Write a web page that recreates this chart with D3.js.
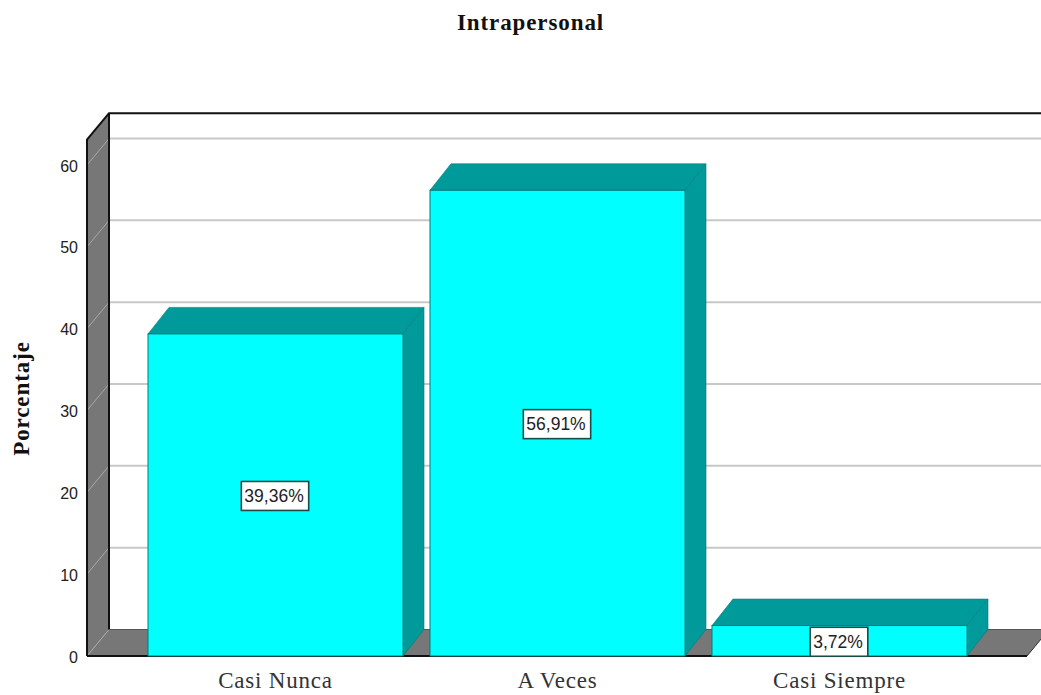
<!DOCTYPE html>
<html><head><meta charset="utf-8">
<script src="https://cdn.jsdelivr.net/npm/d3@7/dist/d3.min.js"></script>
<style>html,body{margin:0;padding:0;background:#fff;overflow:hidden}svg{display:block}</style>
</head><body><svg id="c" width="1041" height="695"></svg>
<script>
const categories = ["Casi Nunca", "A Veces", "Casi Siempre"];
const percentages = [39.36, 56.91, 3.72];
const percentLabels = ["39,36%", "56,91%", "3,72%"];
const tickValues = [0, 10, 20, 30, 40, 50, 60];
const chartTitle = "Intrapersonal";
const yTitle = "Porcentaje";

const svg = d3.select("#c");
const dx = 22, dy = -26.5, barDx = 21;
const y = d3.scaleLinear().domain([0, 60]).range([656, 165]);
const x = d3.scaleBand().domain(categories).range([134.5, 980.5]).paddingInner(0.0957).paddingOuter(0.0479);
const xFrontL = 87, xFrontR = 1027, yTopFront = y(63.1);
const line = d3.line();

// walls and floor
svg.append("path").attr("fill", "#fff")
  .attr("d", line([[xFrontL+dx, yTopFront+dy],[1041, yTopFront+dy],[1041, y(0)+dy],[xFrontL+dx, y(0)+dy]]));
svg.append("path").attr("fill", "#777").attr("d", line([[xFrontL, yTopFront],[xFrontL+dx, yTopFront+dy],[xFrontL+dx, y(0)+dy],[xFrontL, y(0)]])+"Z");
svg.append("path").attr("fill", "#777").attr("d", line([[xFrontL, y(0)],[xFrontL+dx, y(0)+dy],[xFrontR+dx, y(0)+dy],[xFrontR, y(0)]])+"Z");

// gridlines: bright on the back wall, muted on the side wall
tickValues.forEach(t => {
  svg.append("path").attr("fill", "none").attr("stroke", "#a8a8a8").attr("stroke-width", 1)
    .attr("d", line([[xFrontL, y(t)],[xFrontL+dx, y(t)+dy]]));
  if (t > 0) svg.append("path").attr("fill", "none").attr("stroke", "#c8c8c8").attr("stroke-width", 2)
    .attr("d", line([[xFrontL+dx, y(t)+dy],[1041, y(t)+dy]]));
});

// frame
svg.append("path").attr("fill", "none").attr("stroke", "#111").attr("stroke-width", 2)
  .attr("d", line([[xFrontL, y(0)],[xFrontL, yTopFront],[xFrontL+dx, yTopFront+dy],[1041, yTopFront+dy]]));
svg.append("path").attr("fill", "none").attr("stroke", "#111").attr("stroke-width", 2)
  .attr("d", line([[xFrontL+dx, yTopFront+dy],[xFrontL+dx, y(0)+dy]]));
svg.append("path").attr("fill", "none").attr("stroke", "#555").attr("stroke-width", 1)
  .attr("d", line([[xFrontL+dx, y(0)+dy],[xFrontR+dx, y(0)+dy]]));
svg.append("path").attr("fill", "none").attr("stroke", "#111").attr("stroke-width", 2)
  .attr("d", line([[xFrontL, y(0)],[xFrontR, y(0)]]));
svg.append("path").attr("fill", "none").attr("stroke", "#333").attr("stroke-width", 1)
  .attr("d", line([[xFrontR, y(0)],[xFrontR+dx, y(0)+dy]]));

// bars
const rows = categories.map((c, i) => ({c, v: percentages[i], l: percentLabels[i]}));
const g = svg.selectAll("g.bar").data(rows).join("g").attr("class", "bar");
const edge = "#007b7b";
g.append("path").attr("fill", "#009a9a").attr("stroke", edge).attr("stroke-width", 0.6)
  .attr("d", d => { const a=x(d.c), b=a+x.bandwidth(), t=y(d.v); return line([[a,t],[a+barDx,t+dy],[b+barDx,t+dy],[b,t]])+"Z"; });
g.append("path").attr("fill", "#009a9a").attr("stroke", edge).attr("stroke-width", 0.6)
  .attr("d", d => { const b=x(d.c)+x.bandwidth(), t=y(d.v); return line([[b,t],[b+barDx,t+dy],[b+barDx,y(0)+dy],[b,y(0)]])+"Z"; });
g.append("rect").attr("fill", "#00ffff").attr("stroke", edge).attr("stroke-width", 1)
  .attr("x", d => x(d.c)).attr("y", d => y(d.v)).attr("width", x.bandwidth()).attr("height", d => y(0)-y(d.v));

// value labels
const lab = g.append("g").attr("transform", d => `translate(${x(d.c)+x.bandwidth()/2-1.5},${(y(d.v)+y(0))/2+1})`);
lab.append("text").text(d => d.l).attr("text-anchor", "middle").attr("dy", "0.36em")
  .attr("font-family", "Liberation Sans").attr("font-size", 17.5).attr("fill", "#222");
lab.insert("rect", "text").each(function() {
  const w = this.parentNode.querySelector("text").getComputedTextLength();
  d3.select(this).attr("x", -w/2-3).attr("width", w+8).attr("y", -14.5).attr("height", 29);
}).attr("fill", "#fff").attr("stroke", "#1c4a4a").attr("stroke-width", 1.6);

// axes
const yAxis = svg.append("g").attr("transform", `translate(${xFrontL},1)`)
  .call(d3.axisLeft(y).tickValues(tickValues).tickSize(0).tickPadding(9));
yAxis.select(".domain").remove();
yAxis.selectAll("text").attr("font-family", "Liberation Sans").attr("font-size", 16).attr("fill", "#222");

const xAxis = svg.append("g").attr("transform", "translate(0,671.5)")
  .call(d3.axisBottom(x).tickSize(0).tickPadding(0));
xAxis.select(".domain").remove();
xAxis.selectAll("text").attr("font-family", "Liberation Serif").attr("font-size", 23).attr("letter-spacing", 0.8).attr("fill", "#333");

svg.append("text").text(chartTitle).attr("x", 530.5).attr("y", 30).attr("text-anchor", "middle")
  .attr("font-family", "Liberation Serif").attr("font-weight", "bold").attr("font-size", 23).attr("letter-spacing", 0.9).attr("fill", "#111");
svg.append("text").text(yTitle).attr("transform", "translate(29,398.5) rotate(-90)").attr("text-anchor", "middle")
  .attr("font-family", "Liberation Serif").attr("font-weight", "bold").attr("font-size", 23).attr("letter-spacing", 0.9).attr("fill", "#111");
</script></body></html>
